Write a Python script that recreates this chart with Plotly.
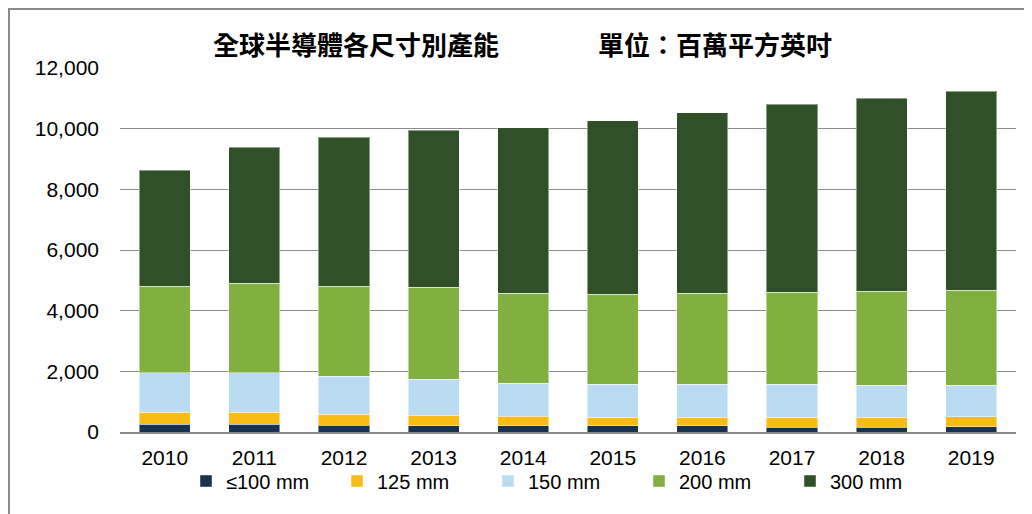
import plotly.graph_objects as go

years = ["2010", "2011", "2012", "2013", "2014", "2015", "2016", "2017", "2018", "2019"]
le100 = [263, 263, 230, 198, 198, 198, 198, 165, 165, 175]
mm125 = [386, 386, 363, 362, 319, 286, 286, 319, 319, 325]
mm150 = [1304, 1304, 1241, 1175, 1087, 1096, 1096, 1096, 1064, 1048]
mm200 = [2844, 2943, 2963, 3029, 2963, 2964, 2997, 3030, 3095, 3128]
mm300 = [3830, 4498, 4916, 5180, 5466, 5719, 5950, 6200, 6365, 6552]

series = [
    ("≤100 mm", le100, "#17324F"),
    ("125 mm", mm125, "#F9BB16"),
    ("150 mm", mm150, "#BBDBF3"),
    ("200 mm", mm200, "#80B040"),
    ("300 mm", mm300, "#305128"),
]

fig = go.Figure()
for name, vals, color in series:
    fig.add_trace(go.Bar(
        x=years, y=vals, name=name,
        marker=dict(color=color, line=dict(color="rgba(255,255,255,0.45)", width=1)),
    ))

W, H = 1032, 514
OFF = 8  # page body margin offset
# plot area in screen pixels: x 120..1016, y 68..432
L = 120 - OFF
T = 68 - OFF
R = W - (1016 - OFF)
B = H - (432 - OFF)
pw, ph = W - L - R, H - T - B

def px_x(sx):
    return (sx - OFF - L) / pw

def px_y(sy):
    return (H - B - (sy - OFF)) / ph

fig.update_layout(
    width=W, height=H,
    margin=dict(l=L, r=R, t=T, b=B, autoexpand=False),
    barmode="stack",
    bargap=0.43,
    plot_bgcolor="white",
    paper_bgcolor="white",
    font=dict(family="Liberation Sans, Arial, sans-serif", color="#000000"),
    showlegend=True,
    legend=dict(
        orientation="h", traceorder="normal",
        x=px_x(186), xanchor="left",
        y=px_y(481), yanchor="middle",
        font=dict(size=20, color="#000000"),
        entrywidth=106, entrywidthmode="pixels",
        itemclick=False, bgcolor="rgba(0,0,0,0)",
    ),
    xaxis=dict(
        showgrid=False, showline=True, linecolor="#8a8a8a", linewidth=1.5,
        tickfont=dict(size=21), ticks="", ticklabelstandoff=6,
    ),
    yaxis=dict(
        range=[0, 12000], dtick=2000, tickformat=",",
        showgrid=True, gridcolor="#8c8c8c", gridwidth=1,
        zeroline=False, showline=False,
        tickfont=dict(size=21), ticks="", ticklabelstandoff=20,
    ),
    annotations=[
        dict(text="<b>全球半導體各尺寸別產能</b>", xref="paper", yref="paper",
             x=px_x(211), y=px_y(43), xanchor="left", yanchor="middle",
             showarrow=False,
             font=dict(family="Noto Sans CJK TC", size=26, color="#000000")),
        dict(text="<b>單位：百萬平方英吋</b>", xref="paper", yref="paper",
             x=px_x(834), y=px_y(43), xanchor="right", yanchor="middle",
             showarrow=False,
             font=dict(family="Noto Sans CJK TC", size=26, color="#000000")),
    ],
    shapes=[
        dict(type="rect", xref="paper", yref="paper",
             x0=px_x(9), x1=px_x(1045), y0=px_y(530), y1=px_y(9),
             line=dict(color="#8a8a8a", width=2), layer="below"),
    ],
)

fig.write_html("out.html")
